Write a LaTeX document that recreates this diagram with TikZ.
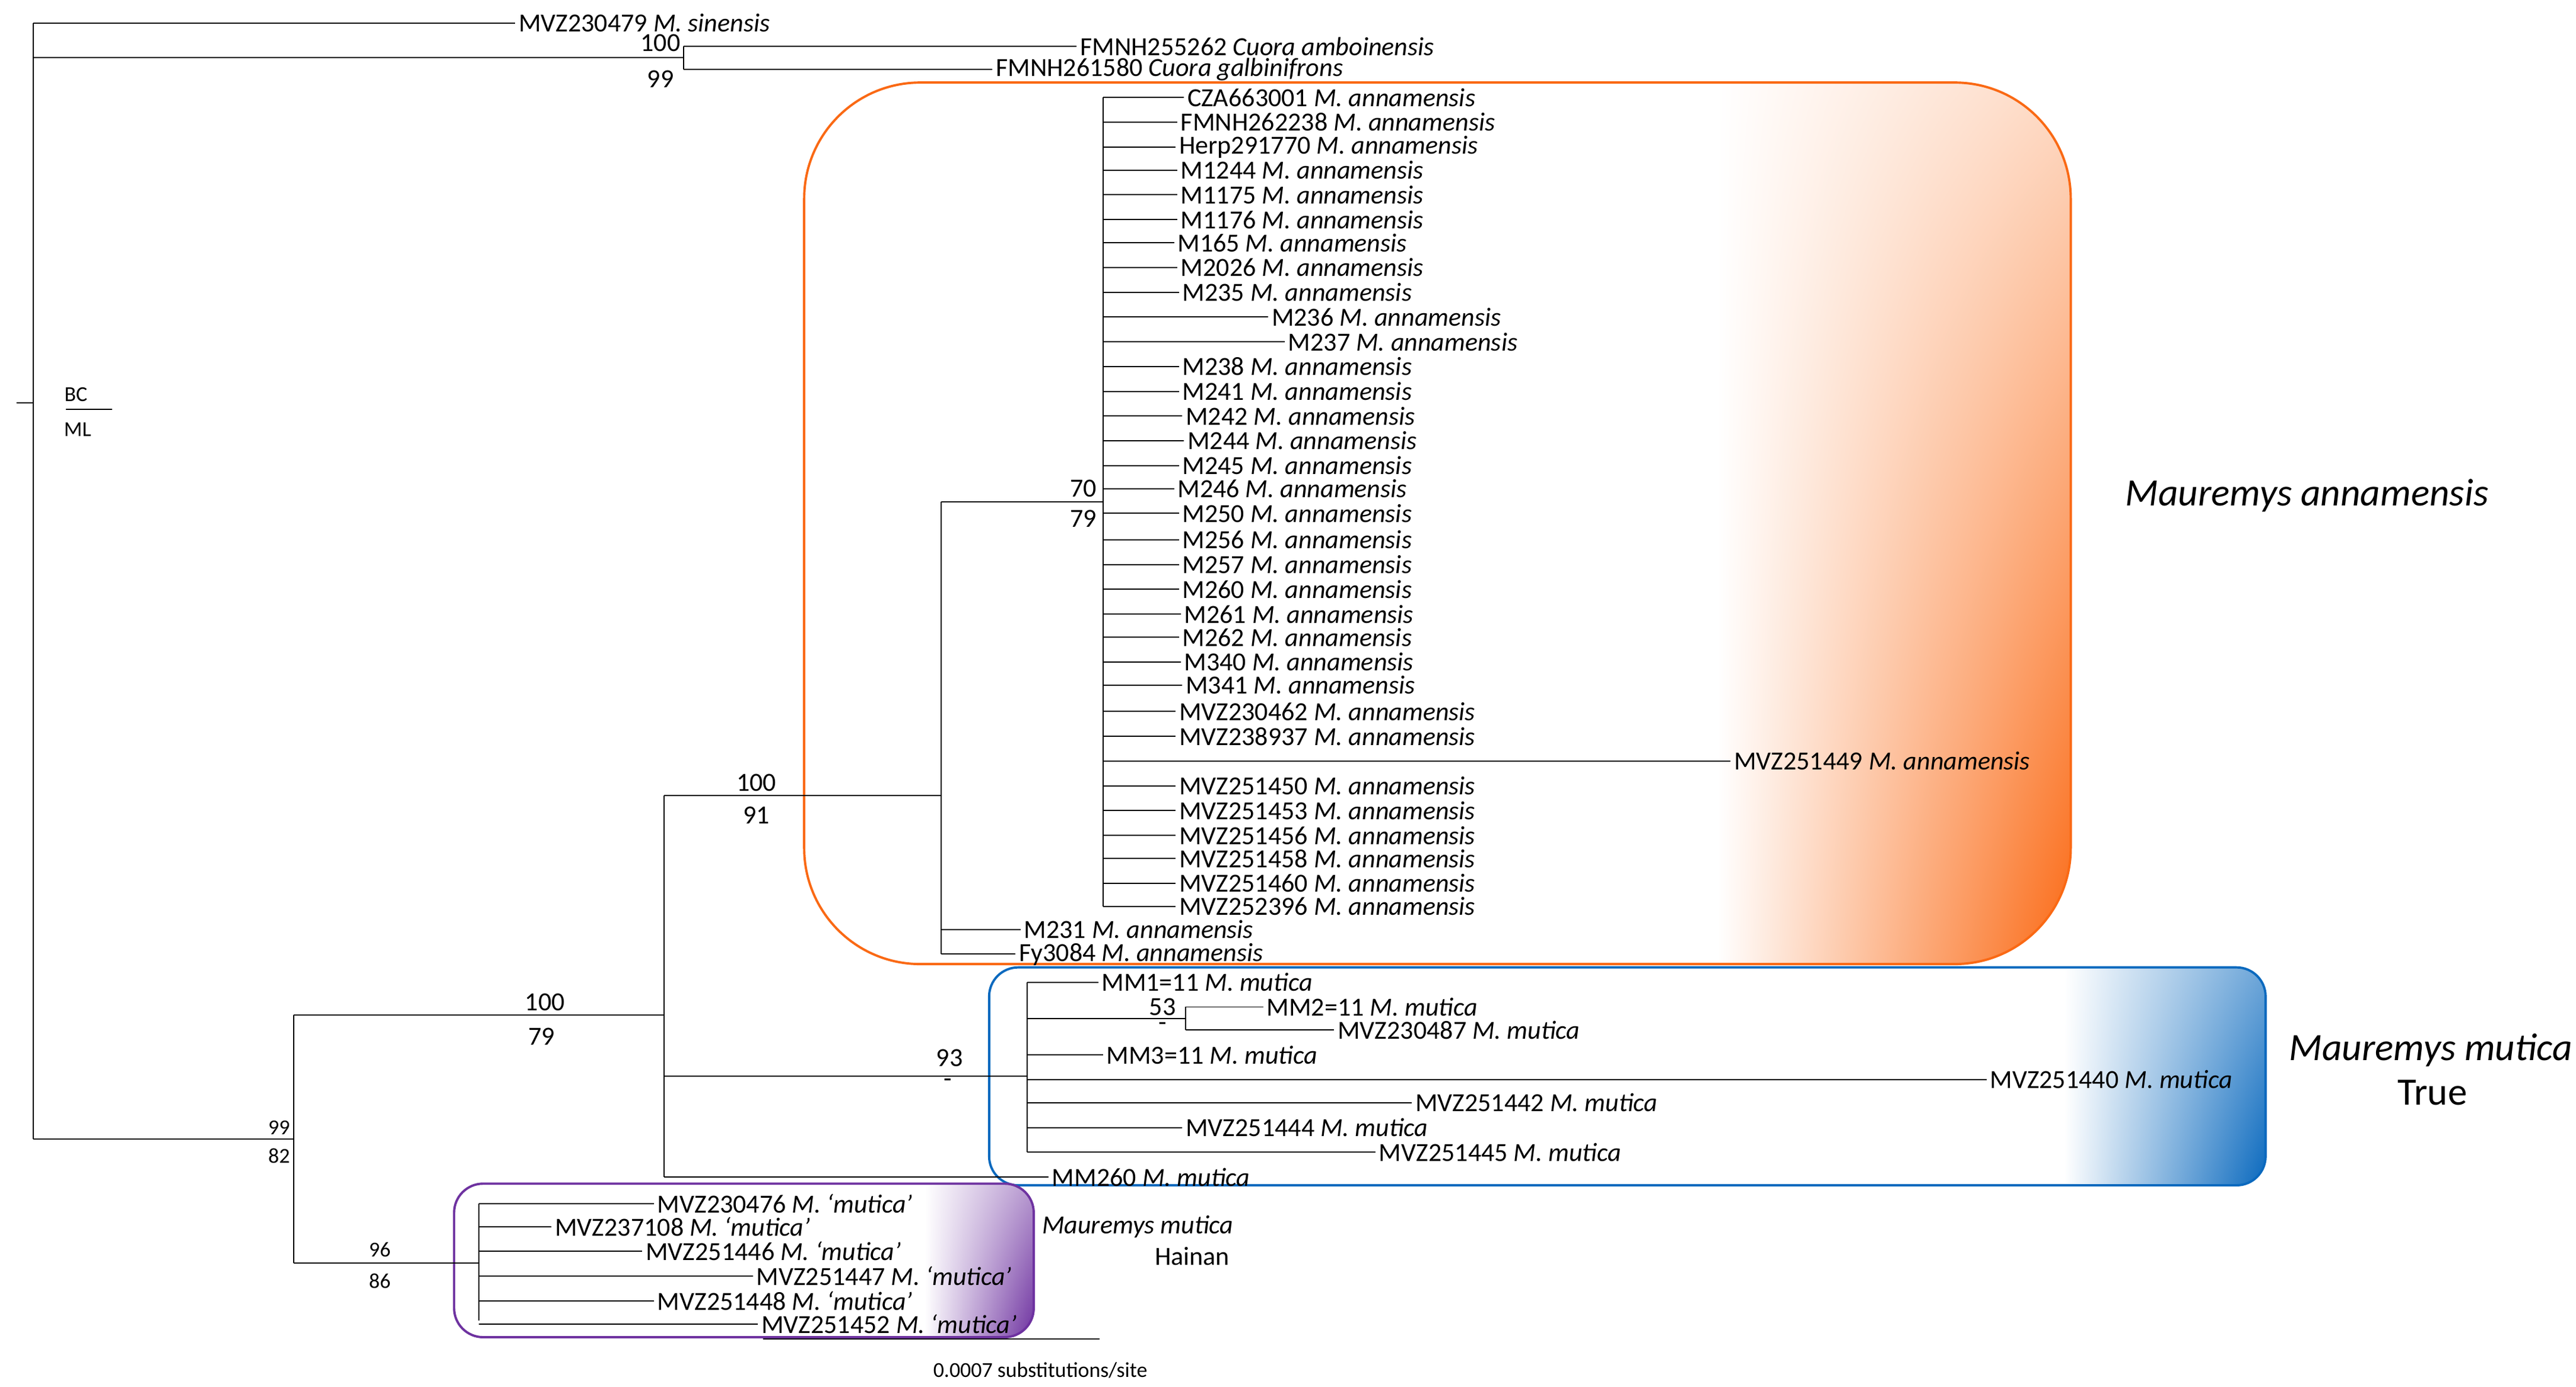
\documentclass[tikz,border=0pt]{standalone}
\usepackage{fontspec}
\usetikzlibrary{shadings}
\setmainfont{Carlito}
\begin{document}
\begin{tikzpicture}[x=0.3mm,y=-0.3mm,line width=0.6pt,
 lbl/.style={anchor=west,inner sep=1.5pt,font=\fontsize{13.5}{13.5}\selectfont},
 sup/.style={font=\fontsize{13.5}{13.5}\selectfont,inner sep=0pt},
 sm/.style={font=\fontsize{11}{11}\selectfont,inner sep=0pt}]
\definecolor{oran}{RGB}{250,105,20}
\definecolor{blu}{RGB}{10,105,190}
\definecolor{purp}{RGB}{110,50,160}
\useasboundingbox (0,0) rectangle (1560,840);
% boxes
\begin{scope}
\clip[rounded corners=60] (487,50) rectangle (1254,584);
\shade[upper left=white,lower left=white,upper right=oran!25,lower right=oran] (1040,50) rectangle (1254,584);
\end{scope}
\draw[oran,line width=1.2pt,rounded corners=60] (487,50) rectangle (1254,584);
\begin{scope}
\clip[rounded corners=15] (599,586) rectangle (1372,718);
\shade[upper left=white,lower left=white,upper right=blu!60,lower right=blu] (1250,586) rectangle (1372,718);
\end{scope}
\draw[blu,line width=1.2pt,rounded corners=15] (599,586) rectangle (1372,718);
\begin{scope}
\clip[rounded corners=15] (275,717) rectangle (626,810);
\shade[upper left=white,lower left=white,upper right=purp!50,lower right=purp] (560,717) rectangle (626,810);
\end{scope}
\draw[purp,line width=1.2pt,rounded corners=15] (275,717) rectangle (626,810);
% root
\coordinate (r) at (20,244);
\draw (10,244) -- (r);
\draw (20,14) -- (20,690);
\draw (20,14) -- (312,14) node[lbl] (s1) {MVZ230479 \textit{M. sinensis}};
\draw (20,35) -- (414,35);
\draw (414,28) -- (414,42);
\draw (414,28) -- (652,28) node[lbl] (c1) {FMNH255262 \textit{Cuora amboinensis}};
\draw (414,42) -- (601,42) node[lbl] (c2) {FMNH261580 \textit{Cuora galbinifrons}};
\node[sup] at (400,26) {100};
\node[sup] at (400,48) {99};
% legend
\draw (40,248) -- (68,248);
\node[sm] at (46,239) {BC};
\node[sm] at (47,260) {ML};
% Mauremys
\draw (20,690) -- (178,690);
\draw (178,615) -- (178,765);
\node[sm] at (169,683) {99};
\node[sm] at (169,700) {82};
\draw (178,615) -- (402,615);
\draw (402,482) -- (402,713);
\node[sup] at (330,607) {100};
\node[sup] at (328,628) {79};
\draw (402,482) -- (570,482);
\node[sup] at (458,474) {100};
\node[sup] at (458,494) {91};
\draw (570,304) -- (570,578);
\draw (570,304) -- (668,304);
\draw (668,59) -- (668,549);
\node[sup] at (656,296) {70};
\node[sup] at (656,314) {79};
\foreach \y/\x/\id in {59/717/CZA663001,74/713/FMNH262238,89/712/Herp291770,103/713/M1244,118/713/M1175,133/713/M1176,147/711/M165,162/713/M2026,177/714/M235,192/768/M236,207/778/M237,222/714/M238,237/714/M241,252/716/M242,267/717/M244,282/714/M245,296/711/M246,311/714/M250,327/714/M256,342/714/M257,357/714/M260,372/715/M261,386/714/M262,401/715/M340,415/716/M341,431/712/MVZ230462,446/712/MVZ238937,461/1048/MVZ251449,476/712/MVZ251450,491/712/MVZ251453,506/712/MVZ251456,520/712/MVZ251458,535/712/MVZ251460,549/712/MVZ252396}
 {\draw (668,\y) -- (\x,\y) node[lbl] (a\y) {\id\ \textit{M. annamensis}};}
\draw (570,563) -- (618,563) node[lbl] (m231) {M231 \textit{M. annamensis}};
\draw (570,578) -- (615,578) node[lbl] (fy) {Fy3084 \textit{M. annamensis}};
% mutica
\draw (402,652) -- (622,652);
\node[sup] at (575,641) {93};
\node[sup] at (574,656) {-};
\draw (622,595) -- (622,698);
\draw (622,595) -- (665,595) node[lbl] (mm1) {MM1=11 \textit{M. mutica}};
\draw (622,617) -- (718,617);
\draw (718,610) -- (718,624);
\node[sup] at (704,610) {53};
\node[sup] at (704,622) {-};
\draw (718,610) -- (765,610) node[lbl] (mm2) {MM2=11 \textit{M. mutica}};
\draw (718,624) -- (808,624) node[lbl] (m487) {MVZ230487 \textit{M. mutica}};
\draw (622,639) -- (668,639) node[lbl] (mm3) {MM3=11 \textit{M. mutica}};
\draw (622,654) -- (1203,654) node[lbl] (m440) {MVZ251440 \textit{M. mutica}};
\draw (622,668) -- (855,668) node[lbl] (m442) {MVZ251442 \textit{M. mutica}};
\draw (622,683) -- (716,683) node[lbl] (m444) {MVZ251444 \textit{M. mutica}};
\draw (622,698) -- (833,698) node[lbl] (m445) {MVZ251445 \textit{M. mutica}};
\draw (402,713) -- (635,713) node[lbl] (mm260) {MM260 \textit{M. mutica}};
% Hainan
\draw (178,765) -- (290,765);
\draw (290,729) -- (290,800);
\node[sm] at (230,757) {96};
\node[sm] at (230,776) {86};
\foreach \y/\x/\id in {729/396/MVZ230476,743/334/MVZ237108,758/389/MVZ251446,773/456/MVZ251447,788/396/MVZ251448,802/459/MVZ251452}
 {\draw (290,\y) -- (\x,\y) node[lbl] (h\y) {\id\ \textit{M. `mutica'}};}
% scale bar
\draw (462,811) -- (666,811);
\node[sm] at (630,830) {0.0007 substitutions/site};
% clade labels
\node[font=\fontsize{20}{20}\selectfont\itshape] at (1397,300) {Mauremys annamensis};
\node[font=\fontsize{20}{20}\selectfont\itshape] at (1472,636) {Mauremys mutica};
\node[font=\fontsize{20}{20}\selectfont] at (1473,662) {True};
\node[font=\fontsize{13.5}{13.5}\selectfont\itshape] at (689,743) {Mauremys mutica};
\node[font=\fontsize{13.5}{13.5}\selectfont] at (722,761) {Hainan};
\end{tikzpicture}
\end{document}
